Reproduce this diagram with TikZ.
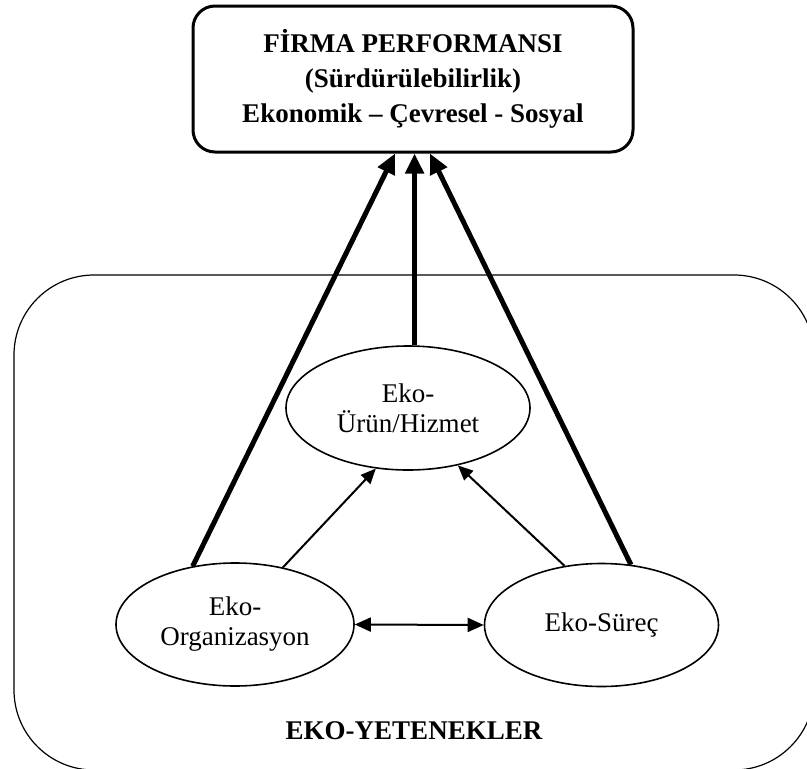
\documentclass[tikz,border=0pt]{standalone}
\usepackage{fontspec}
\setmainfont{Liberation Serif}
\usetikzlibrary{shapes.geometric,arrows.meta}
\begin{document}
\begin{tikzpicture}[x=1pt,y=-1pt,
  goal/.style={draw,line width=3pt,rounded corners=22pt,minimum width=440pt,
    minimum height=146pt,align=center,inner sep=0pt,
    font=\bfseries\fontsize{27}{35}\selectfont},
  eco/.style={draw,ellipse,line width=1.6pt,inner sep=0pt,align=center,
    font=\fontsize{27}{30}\selectfont},
  bold arrow/.style={line width=5pt,-{Triangle[length=20pt,width=18pt]}},
  thin arrow/.style={line width=2pt,-{Triangle[length=15pt,width=13pt]}},
  both arrow/.style={line width=2pt,
    {Triangle[length=16pt,width=14pt]}-{Triangle[length=16pt,width=14pt]}}
]
\useasboundingbox (0,0) rectangle (807,769);

% frame around the eco-capabilities, running off the right and bottom edges
\begin{scope}
  \clip (0,0) rectangle (807,769);
  \draw[line width=1.2pt,rounded corners=80pt] (14,275) rectangle (814,770);
\end{scope}

% performance box
\node[goal] (perf) at (413,79)
  {FİRMA PERFORMANSI\\(Sürdürülebilirlik)\\Ekonomik – Çevresel - Sosyal};

% eco-capabilities
\node[eco,minimum width=244pt,minimum height=124pt] (urun) at (408,408)
  {Eko-\\Ürün/Hizmet};
\node[eco,minimum width=238pt,minimum height=123pt] (org) at (235,624.5)
  {Eko-\\Organizasyon};
\node[eco,minimum width=234pt,minimum height=123pt] (surec) at (601.5,625)
  {Eko-Süreç};
\node[font=\bfseries\fontsize{27}{30}\selectfont] (cap) at (414,731)
  {EKO-YETENEKLER};

% links to performance
\draw[bold arrow] (org.126) -- ([xshift=-18pt]perf.south);
\draw[bold arrow] (urun.84) -- (urun.84 |- perf.south);
\draw[bold arrow] (surec.64) -- ([xshift=17pt]perf.south);

% links between capabilities
\draw[thin arrow] (org.50) -- (urun.242);
\draw[thin arrow] (surec.122) -- (urun.311);
\draw[both arrow] (org.east) -- (surec.west);
\end{tikzpicture}
\end{document}
